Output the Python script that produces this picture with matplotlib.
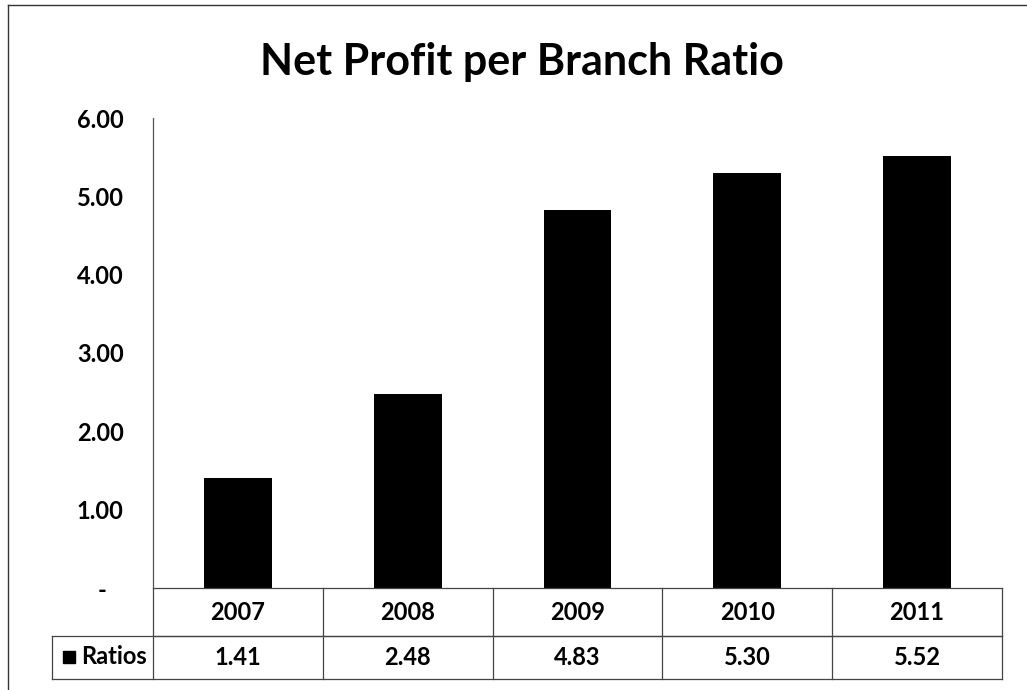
import matplotlib
matplotlib.use("Agg")
import matplotlib.pyplot as plt
from matplotlib.lines import Line2D
from matplotlib.patches import Rectangle
from matplotlib.ticker import FuncFormatter

years = ["2007", "2008", "2009", "2010", "2011"]
ratios = [1.41, 2.48, 4.83, 5.30, 5.52]
series_name = "Ratios"
title = "Net Profit per Branch Ratio"

plt.rcParams["font.family"] = ["Lato", "DejaVu Sans"]

W, H = 1027, 690
fig = plt.figure(figsize=(W / 100, H / 100), dpi=100)

label_size = 17
label_weight = "bold"

# plot area in pixel terms
left_px, right_px, top_px, bottom_px = 153, 1002, 118, 588
ax = fig.add_axes([left_px / W, 1 - bottom_px / H,
                   (right_px - left_px) / W, (bottom_px - top_px) / H])

x = list(range(len(years)))
ax.bar(x, ratios, width=0.4, color="black")
ax.set_xlim(-0.5, len(years) - 0.5)
ax.set_ylim(0, 6)
ax.set_yticks([0, 1, 2, 3, 4, 5, 6])
ax.yaxis.set_major_formatter(FuncFormatter(lambda v, p: "-   " if v == 0 else f"{v:.2f}"))
ax.tick_params(axis="y", length=0, pad=21, labelsize=label_size)
for lab in ax.get_yticklabels():
    lab.set_fontweight(label_weight)
ax.set_xticks([])
for s in ["top", "right", "bottom"]:
    ax.spines[s].set_visible(False)
ax.spines["left"].set_color("#555555")
ax.spines["left"].set_linewidth(0.9)

# data table beneath the axis
tr = ax.get_xaxis_transform()
ax_h = bottom_px - top_px
row1 = -(636 - bottom_px) / ax_h
row2 = -(679 - bottom_px) / ax_h
x_head = -0.5 + (52 - left_px) / ((right_px - left_px) / len(years))
lc, lw = "#444444", 0.9
kw = dict(transform=tr, color=lc, lw=lw, clip_on=False)
xe = len(years) - 0.5
for yy in (0, row1):
    ax.add_line(Line2D([-0.5, xe], [yy, yy], **kw))
ax.add_line(Line2D([x_head, xe], [row1, row1], **kw))
ax.add_line(Line2D([x_head, xe], [row2, row2], **kw))
for i in range(len(years) + 1):
    xv = i - 0.5
    ax.add_line(Line2D([xv, xv], [0, row2], **kw))
ax.add_line(Line2D([x_head, x_head], [row1, row2], **kw))

for i, (yr, v) in enumerate(zip(years, ratios)):
    ax.text(i, row1 / 2, yr, transform=tr, ha="center", va="center",
            fontsize=label_size, fontweight=label_weight, clip_on=False)
    ax.text(i, (row1 + row2) / 2, f"{v:.2f}", transform=tr, ha="center",
            va="center", fontsize=label_size, fontweight=label_weight, clip_on=False)

# legend key and series name in the header cell
ym = 1 - 657 / H
fig.patches.append(Rectangle((63 / W, ym - 6 / H), 12 / W, 12 / H,
                             transform=fig.transFigure, color="black"))
fig.text(81 / W, ym, series_name, ha="left", va="center",
         fontsize=label_size, fontweight=label_weight)

fig.text(522 / W, 1 - 62 / H, title, ha="center", va="center",
         fontsize=31, fontweight="bold")

# outer chart frame
fig.add_artist(Line2D([8 / W, 8 / W], [0, 1 - 5 / H], transform=fig.transFigure,
                      color="#333333", lw=1.0))
fig.add_artist(Line2D([8 / W, 1], [1 - 5 / H, 1 - 5 / H], transform=fig.transFigure,
                      color="#333333", lw=1.0))

fig.savefig("out.png", dpi=100)
